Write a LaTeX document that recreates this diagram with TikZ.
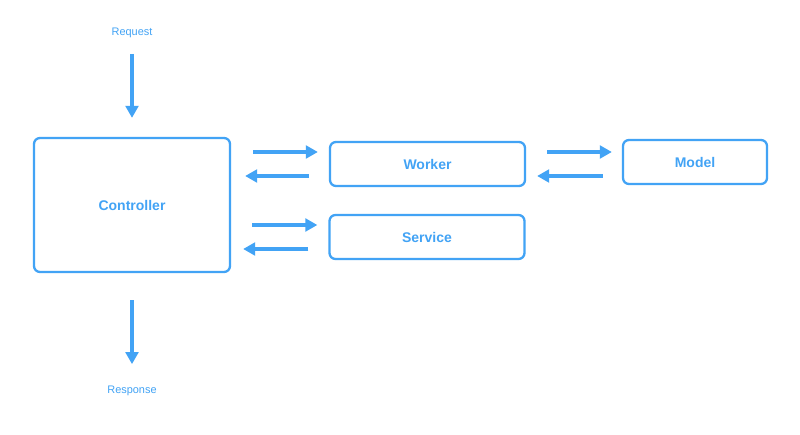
\documentclass[tikz,border=0pt]{standalone}
\usepackage{fontspec}
\setmainfont{Liberation Sans}
\usetikzlibrary{arrows.meta,calc}
\definecolor{bl}{RGB}{66,163,245}
\begin{document}
\begin{tikzpicture}[x=0.75pt,y=-0.75pt,
  box/.style={draw=bl, line width=1.7pt, rounded corners=4.5pt, text=bl, font=\bfseries\fontsize{10.5}{12}\selectfont, inner sep=0pt},
  lbl/.style={text=bl, font=\fontsize{8.2}{10}\selectfont, inner sep=0pt},
  arr/.style={draw=bl, line width=2.6pt, -{Triangle[length=9pt,width=9.5pt]}}]
\fill[white] (0,0) rectangle (800,435);
\useasboundingbox (0,0) rectangle (800,435);
\node[box, minimum width=147pt, minimum height=100.5pt] (ctrl) at (132,205) {Controller};
\node[box, minimum width=146.25pt, minimum height=33pt] (wk) at (427.5,164) {Worker};
\node[box, minimum width=146.25pt, minimum height=33pt] (sv) at (427,237) {Service};
\node[box, minimum width=108pt, minimum height=33pt] (md) at (695,162) {Model};
\node[lbl] (req) at (132,32.5) {Request};
\node[lbl] (resp) at (132,390.5) {Response};
% request / response
\draw[arr] ($(ctrl.north)+(0,-83)$) -- ($(ctrl.north)+(0,-19)$);
\draw[arr] ($(ctrl.south)+(0,27)$) -- ($(ctrl.south)+(0,91)$);
% controller <-> worker
\draw[arr] ($(ctrl.east |- wk.west)+(22,-12)$) -- ($(wk.west)+(-11,-12)$);
\draw[arr] ($(wk.west)+(-20,12)$) -- ($(ctrl.east |- wk.west)+(14,12)$);
% controller <-> service
\draw[arr] ($(ctrl.east |- sv.west)+(21,-12)$) -- ($(sv.west)+(-11,-12)$);
\draw[arr] ($(sv.west)+(-20,12)$) -- ($(ctrl.east |- sv.west)+(12,12)$);
% worker <-> model
\draw[arr] ($(wk.east |- md.west)+(21,-10)$) -- ($(md.west)+(-10,-10)$);
\draw[arr] ($(md.west)+(-19,14)$) -- ($(wk.east |- md.west)+(11,14)$);
\end{tikzpicture}
\end{document}
